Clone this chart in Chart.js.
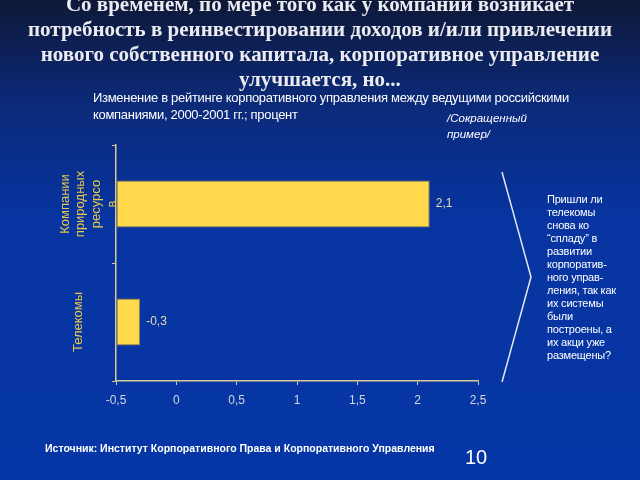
<!DOCTYPE html>
<html><head><meta charset="utf-8">
<script src="https://cdn.jsdelivr.net/npm/chart.js@4/dist/chart.umd.min.js"></script>
<style>
html,body{margin:0;padding:0;}
body{width:640px;height:480px;overflow:hidden;position:relative;
 background:linear-gradient(to bottom,#0e1838 0%,#0b2a7a 22%,#0734a0 45%,#0636a6 100%);font-family:"Liberation Sans",Arial,sans-serif;color:#fff;}
#c{position:absolute;left:0;top:0;}
.t{position:absolute;left:0;width:640px;text-align:center;font-family:"Liberation Serif",serif;font-weight:bold;font-size:21px;line-height:25px;top:-8px;color:#ececf0;}
.sub{position:absolute;left:93px;top:89px;font-size:13px;line-height:17px;letter-spacing:-0.3px;}
.ex{position:absolute;left:447px;top:111px;font-size:11.5px;line-height:15.5px;font-style:italic;}
.q{position:absolute;left:547px;top:193px;font-size:11px;line-height:13px;white-space:nowrap;letter-spacing:-0.2px;}
.src{position:absolute;left:45px;top:442px;font-size:10.5px;font-weight:bold;}
.pg{position:absolute;left:465px;top:446px;font-size:20px;}
svg{position:absolute;left:0;top:0;}
</style></head><body>
<canvas id="c" width="640" height="480"></canvas>
<div class="t">Со временем, по мере того как у компании возникает<br>потребность в реинвестировании доходов и/или привлечении<br>нового собственного капитала, корпоративное управление<br>улучшается, но...</div>
<div class="sub">Изменение в рейтинге корпоративного управления между ведущими российскими<br>компаниями, 2000-2001 гг.; процент</div>
<div class="ex">/Сокращенный<br>пример/</div>
<svg width="640" height="480"><polyline points="502,172 531,277 502,382" fill="none" stroke="#e8e8f0" stroke-width="1.5"/></svg>
<div class="q">Пришли ли<br>телекомы<br>снова ко<br>“спладу” в<br>развитии<br>корпоратив-<br>ного управ-<br>ления, так как<br>их системы<br>были<br>построены, а<br>их акци уже<br>размещены?</div>
<div class="src">Источник: Институт Корпоративного Права и Корпоративного Управления</div>
<div class="pg">10</div>
<script>
const categories = ["Компании природных ресурсов", "Телекомы"];
const categoryLines = [["Компании","природных","ресурсо","в"], ["Телекомы"]];
const values = [2.1, -0.3];
const valueLabels = ["2,1", "-0,3"];
const X_MIN = -0.5, X_MAX = 2.5, X_STEP = 0.5;
const axisColor = "#d9c99a";
const yellow = "#ffd84c";

const labelPlugin = {
  id: 'labels',
  afterDatasetsDraw(chart) {
    const ctx = chart.ctx;
    const meta = chart.getDatasetMeta(0);
    const ys = chart.scales.y;
    ctx.save();
    ctx.font = '12px "Liberation Sans", Arial, sans-serif';
    ctx.fillStyle = '#e6dcae';
    ctx.textBaseline = 'middle';
    meta.data.forEach((bar, i) => {
      ctx.textAlign = 'left';
      ctx.fillText(valueLabels[i], bar.x + 6, bar.y);
    });
    ctx.fillStyle = '#e8c84a';
    ctx.font = '13px "Liberation Sans", Arial, sans-serif';
    ctx.textAlign = 'center';
    categories.forEach((c, i) => {
      const y = ys.getPixelForValue(i);
      const lines = categoryLines[i];
      const step = 15.7;
      const x0 = lines.length > 1 ? ys.left + 65 : ys.left + 78;
      lines.forEach((ln, k) => {
        ctx.save();
        ctx.translate(x0 + k * step, y);
        ctx.rotate(-Math.PI / 2);
        ctx.fillText(ln, 0, 0);
        ctx.restore();
      });
    });
    ctx.restore();
  }
};

new Chart(document.getElementById('c'), {
  type: 'bar',
  data: {
    labels: categories,
    datasets: [{
      data: values,
      base: X_MIN,
      backgroundColor: yellow,
      borderColor: '#8f7d3e',
      borderWidth: 1,
      borderSkipped: false,
      barPercentage: 0.4,
      categoryPercentage: 1.0
    }]
  },
  options: {
    indexAxis: 'y',
    responsive: false,
    animation: false,
    layout: { padding: { left: 0, right: 162, top: 145, bottom: 0 } },
    plugins: { legend: { display: false }, tooltip: { enabled: false } },
    scales: {
      x: {
        min: X_MIN, max: X_MAX,
        afterFit: s => { s.height = 99; },
        border: { color: axisColor, width: 1.5 },
        grid: { drawOnChartArea: false, color: axisColor, tickLength: 4 },
        ticks: {
          stepSize: X_STEP,
          color: '#d3d6e2',
          font: { size: 12, family: '"Liberation Sans", Arial, sans-serif' },
          padding: 8,
          callback: v => String(v).replace('.', ',')
        }
      },
      y: {
        afterFit: s => { s.width = 116; },
        offset: true,
        border: { color: axisColor, width: 1.5 },
        grid: { drawOnChartArea: false, color: axisColor, tickLength: 4, offset: true },
        ticks: { display: false }
      }
    }
  },
  plugins: [labelPlugin]
});
</script>
</body></html>
